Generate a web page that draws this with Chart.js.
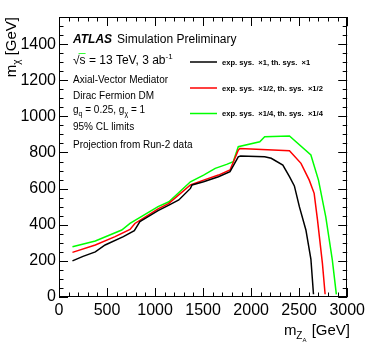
<!DOCTYPE html>
<html><head><meta charset="utf-8">
<script src="https://cdn.jsdelivr.net/npm/chart.js@4.4.0/dist/chart.umd.min.js"></script>
<style>html,body{margin:0;padding:0;background:#fff;overflow:hidden}#wrap{width:369px;height:354px;position:relative}</style>
</head><body><div id="wrap"><canvas id="c" width="369" height="354"></canvas></div>
<script>
// ---- data ----
const xTicks = [0, 500, 1000, 1500, 2000, 2500, 3000];
const yTicks = [0, 200, 400, 600, 800, 1000, 1200, 1400];
const seriesLabels = [
  "exp. sys.  \u00d71, th. sys.  \u00d71",
  "exp. sys.  \u00d71/2, th. sys.  \u00d71/2",
  "exp. sys.  \u00d71/4, th. sys.  \u00d71/4"
];
const blackX = [140, 250, 378, 480, 670, 784, 842, 1031, 1144, 1247, 1368, 1385, 1505, 1660, 1780, 1866, 1890, 2141, 2209, 2330, 2399, 2450, 2502, 2570, 2622, 2649];
const blackY = [200, 225, 250, 288, 334, 367, 417, 478, 509, 537, 601, 620, 638, 666, 694, 776, 780, 776, 768, 730, 666, 615, 500, 371, 210, 15];
const redX = [140, 378, 584, 739, 790, 1031, 1144, 1368, 1505, 1660, 1780, 1866, 1883, 2399, 2519, 2605, 2656, 2691, 2742, 2770];
const redY = [247, 288, 334, 374, 407, 488, 518, 620, 647, 675, 703, 813, 822, 810, 740, 647, 574, 426, 186, 15];
const greenX = [140, 378, 653, 739, 1031, 1144, 1368, 1505, 1626, 1745, 1814, 1866, 2090, 2141, 2399, 2622, 2701, 2777, 2845, 2887];
const greenY = [278, 310, 371, 407, 500, 527, 638, 675, 712, 734, 749, 832, 859, 887, 891, 786, 647, 444, 205, 15];
const seriesColors = ["#000000", "#ff0000", "#00ff00"];
const xMin = 0, xMax = 3000, yMin = 0, yMax = 1550;
const xMajor = 500, xMinor = 100, yMajor = 200, yMinor = 50;

const FONT = '"Liberation Sans", Arial, Helvetica, sans-serif';
const pts = (xs, ys) => xs.map((v, i) => ({x: v, y: ys[i]}));
const seriesData = [pts(blackX, blackY), pts(redX, redY), pts(greenX, greenY)];

function rich(ctx, x, y, segs, align) {
  let w = 0;
  for (const s of segs) { ctx.font = (s[2] || '') + ' ' + s[1] + 'px ' + FONT; w += ctx.measureText(s[0]).width + (s[4] || 0); }
  let cx = align === 'right' ? x - w : x;
  for (const s of segs) {
    ctx.font = (s[2] || '') + ' ' + s[1] + 'px ' + FONT;
    ctx.fillText(s[0], cx, y + (s[3] || 0));
    cx += ctx.measureText(s[0]).width + (s[4] || 0);
  }
  return w;
}

const decor = {
  id: 'decor',
  afterDraw(chart) {
    const {ctx, chartArea: {left, right, top, bottom}, scales: {x, y}} = chart;
    ctx.save();
    ctx.strokeStyle = '#000'; ctx.lineWidth = 1;
    ctx.beginPath();
    for (let v = xMin; v <= xMax; v += xMinor) {
      const px = Math.round(x.getPixelForValue(v)) + 0.5;
      const len = v % xMajor === 0 ? 9 : 4.5;
      ctx.moveTo(px, bottom); ctx.lineTo(px, bottom - len);
      ctx.moveTo(px, top); ctx.lineTo(px, top + len);
    }
    for (let v = yMin; v <= yMax; v += yMinor) {
      const py = Math.round(y.getPixelForValue(v)) + 0.5;
      const len = v % yMajor === 0 ? 9 : 4.5;
      ctx.moveTo(left, py); ctx.lineTo(left + len, py);
      ctx.moveTo(right, py); ctx.lineTo(right - len, py);
    }
    ctx.stroke();
    ctx.strokeRect(Math.round(left) + 0.5, Math.round(top) + 0.5, Math.round(right - left) - 1, Math.round(bottom - top) - 1);

    // legend
    const legY = [62, 88, 113.5];
    chart.data.datasets.forEach((ds, i) => {
      ctx.strokeStyle = ds.borderColor; ctx.lineWidth = 1.5;
      ctx.beginPath(); ctx.moveTo(190, legY[i]); ctx.lineTo(217, legY[i]); ctx.stroke();
      ctx.fillStyle = '#000'; ctx.textBaseline = 'middle'; ctx.textAlign = 'left';
      ctx.font = 'bold 7.6px ' + FONT;
      ctx.fillText(ds.label, 222, legY[i] + 0.5);
    });

    // text block
    ctx.fillStyle = '#000'; ctx.textBaseline = 'alphabetic'; ctx.textAlign = 'left';
    rich(ctx, 73, 43, [["ATLAS", 12, 'italic bold', 0, 5], ["Simulation Preliminary", 12, '', 0]]);
    rich(ctx, 73, 64, [["\u221As = 13 TeV, 3 ab", 12, '', 0], ["-1", 8, '', -5]]);
    ctx.font = '12px ' + FONT;
    const sq = ctx.measureText("\u221A").width, sw = ctx.measureText("s").width;
    ctx.lineWidth = 0.8; ctx.beginPath(); ctx.moveTo(73 + sq - 1, 53.5); ctx.lineTo(73 + sq + sw, 53.5); ctx.stroke();
    rich(ctx, 73, 83, [["Axial-Vector Mediator", 10, '', 0]]);
    rich(ctx, 73, 98.5, [["Dirac Fermion DM", 10, '', 0]]);
    rich(ctx, 73, 112.5, [["g", 10, '', 0], ["q", 7, '', 3], [" = 0.25, g", 10, '', 0], ["\u03c7", 7, '', 3], [" = 1", 10, '', 0]]);
    rich(ctx, 73, 129.5, [["95% CL limits", 10, '', 0]]);
    rich(ctx, 73, 148, [["Projection from Run-2 data", 10, '', 0]]);

    // x title
    rich(ctx, 350, 335, [["m", 15, '', 0], ["Z", 10, '', 4], ["A", 6, '', 7, 1], [" [GeV]", 15, '', 0]], 'right');
    // y title
    ctx.save();
    ctx.translate(16, 17); ctx.rotate(-Math.PI / 2);
    rich(ctx, 0, 0, [["m", 15, '', 0], ["\u03c7", 10, '', 4], [" [GeV]", 15, '', 0]], 'right');
    ctx.restore();
    ctx.restore();
  }
};

new Chart(document.getElementById('c'), {
  type: 'line',
  data: {
    datasets: seriesData.map((d, i) => ({
      label: seriesLabels[i], data: d, borderColor: seriesColors[i], backgroundColor: seriesColors[i],
      borderWidth: 1.5, pointRadius: 0, tension: 0, fill: false
    }))
  },
  options: {
    responsive: false, animation: false, devicePixelRatio: 1,
    layout: {padding: {left: 0, right: 19, top: 17, bottom: 0}},
    plugins: {legend: {display: false}, tooltip: {enabled: false}},
    scales: {
      x: {
        type: 'linear', min: xMin, max: xMax,
        grid: {display: false, drawTicks: false}, border: {display: false},
        afterBuildTicks: s => { s.ticks = xTicks.map(v => ({value: v})); },
        afterFit: s => { s.height = 57; },
        ticks: {font: {family: FONT, size: 16}, color: '#000', padding: 4, maxRotation: 0, autoSkip: false,
                callback: v => String(v)}
      },
      y: {
        type: 'linear', min: yMin, max: yMax,
        grid: {display: false, drawTicks: false}, border: {display: false},
        afterBuildTicks: s => { s.ticks = yTicks.map(v => ({value: v})); },
        afterFit: s => { s.width = 59; },
        ticks: {font: {family: FONT, size: 16}, color: '#000', padding: 3, autoSkip: false,
                callback: v => String(v)}
      }
    }
  },
  plugins: [decor]
});
</script></body></html>
